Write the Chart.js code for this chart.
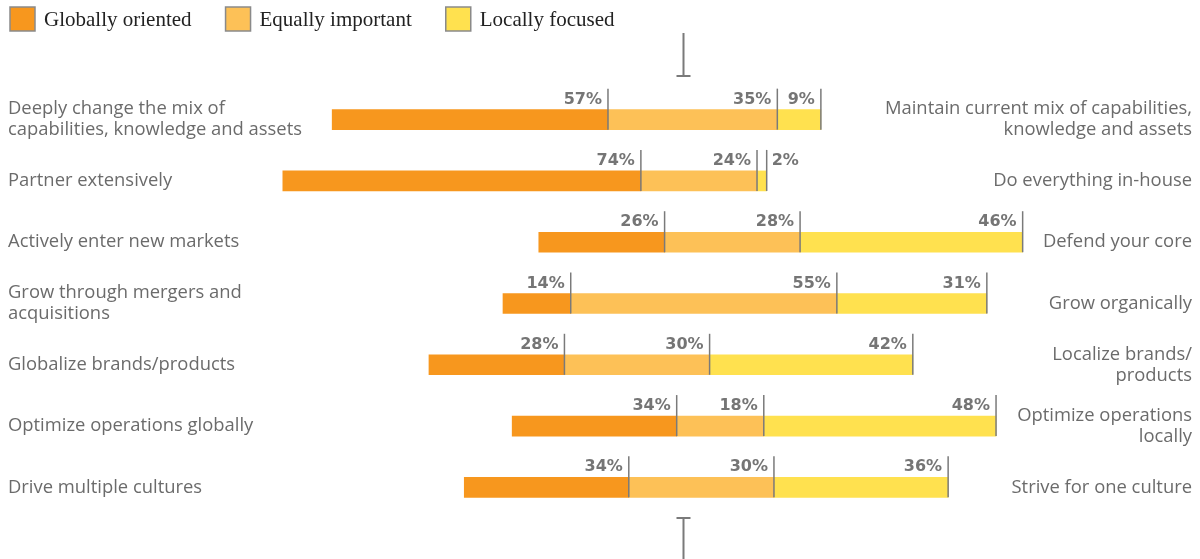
<!DOCTYPE html>
<html>
<head>
<meta charset="utf-8">
<script src="https://cdn.jsdelivr.net/npm/chart.js@4.4.1/dist/chart.umd.min.js"></script>
<style>
  html, body { margin: 0; padding: 0; background: #fff; }
</style>
</head>
<body>
<canvas id="chart" width="1200" height="559"></canvas>
<script>
const leftLabels = [
    ['Deeply change the mix of', 'capabilities, knowledge and assets'],
    ['Partner extensively'],
    ['Actively enter new markets'],
    ['Grow through mergers and', 'acquisitions'],
    ['Globalize brands/products'],
    ['Optimize operations globally'],
    ['Drive multiple cultures']
];
const rightLabels = [
    ['Maintain current mix of capabilities,', 'knowledge and assets'],
    ['Do everything in-house'],
    ['Defend your core'],
    ['Grow organically'],
    ['Localize brands/', 'products'],
    ['Optimize operations', 'locally'],
    ['Strive for one culture']
];
const globally = [57, 74, 26, 14, 28, 34, 34];
const equally = [35, 24, 28, 55, 30, 18, 30];
const locally = [9, 2, 46, 31, 42, 48, 36];
// where each bar begins, in % points relative to the centre marker
const barStart = [-72.5, -82.7, -29.8, -37.2, -52.5, -35.3, -45.2];
const seriesNames = ['Globally oriented', 'Equally important', 'Locally focused'];
const seriesColors = ['#f7971e', '#fdc157', '#ffe14f'];

const textColor = '#6b6b6b';
const sansFont = '"Open Sans", "Noto Sans", sans-serif';

// floating segments built from the values above
const series = [globally, equally, locally];
const segments = series.map(() => []);
barStart.forEach((start, i) => {
    let pos = start;
    series.forEach((vals, s) => {
        segments[s].push([pos, pos + vals[i]]);
        pos += vals[i];
    });
});

const overlay = {
    id: 'overlay',
    afterDatasetsDraw(chart) {
        const ctx = chart.ctx;
        const yScale = chart.scales.y;
        const xScale = chart.scales.x;
        ctx.save();

        // percentage labels and their little tick lines
        chart.data.datasets.forEach((ds, s) => {
            const meta = chart.getDatasetMeta(s);
            meta.data.forEach((bar, i) => {
                const right = Math.max(bar.x, bar.base);
                const left = Math.min(bar.x, bar.base);
                ctx.strokeStyle = '#7a7a7a';
                ctx.lineWidth = 1.5;
                ctx.beginPath();
                ctx.moveTo(right, bar.y - 31);
                ctx.lineTo(right, bar.y + 10);
                ctx.stroke();

                const txt = series[s][i] + '%';
                ctx.font = 'bold 16px "DejaVu Sans", sans-serif';
                ctx.fillStyle = '#757575';
                ctx.textBaseline = 'alphabetic';
                const w = ctx.measureText(txt).width;
                if (right - left < w + 8) {
                    ctx.textAlign = 'left';
                    ctx.fillText(txt, right + 5, bar.y - 16);
                } else {
                    ctx.textAlign = 'right';
                    ctx.fillText(txt, right - 6, bar.y - 16);
                }
            });
        });

        // category texts on both sides
        ctx.font = '18.4px ' + sansFont;
        ctx.fillStyle = textColor;
        ctx.textBaseline = 'middle';
        const lineH = 21;
        leftLabels.forEach((lines, i) => {
            const y = yScale.getPixelForValue(i);
            const top = y - (lines.length - 1) * lineH / 2;
            ctx.textAlign = 'left';
            lines.forEach((l, k) => ctx.fillText(l, 8, top + k * lineH));
        });
        rightLabels.forEach((lines, i) => {
            const y = yScale.getPixelForValue(i);
            const top = y - (lines.length - 1) * lineH / 2;
            ctx.textAlign = 'right';
            lines.forEach((l, k) => ctx.fillText(l, 1192, top + k * lineH));
        });

        // centre markers
        const cx = Math.round(xScale.getPixelForValue(0)) + 0.5;
        ctx.strokeStyle = '#7a7a7a';
        ctx.lineWidth = 2;
        ctx.beginPath();
        ctx.moveTo(cx, 33);
        ctx.lineTo(cx, 76);
        ctx.moveTo(cx - 7, 76);
        ctx.lineTo(cx + 7, 76);
        ctx.moveTo(cx - 7, 518);
        ctx.lineTo(cx + 7, 518);
        ctx.moveTo(cx, 518);
        ctx.lineTo(cx, 559);
        ctx.stroke();

        // legend
        let lx = 10;
        ctx.font = '21px "Liberation Serif", "DejaVu Serif", serif';
        ctx.textAlign = 'left';
        ctx.textBaseline = 'middle';
        chart.data.datasets.forEach((ds) => {
            ctx.fillStyle = ds.backgroundColor;
            ctx.fillRect(lx, 7, 25, 24);
            ctx.strokeStyle = '#8a8a8a';
            ctx.lineWidth = 1.5;
            ctx.strokeRect(lx, 7, 25, 24);
            ctx.fillStyle = '#222';
            ctx.fillText(ds.label, lx + 34, 20);
            lx += 34 + ctx.measureText(ds.label).width + 34;
        });

        ctx.restore();
    }
};

new Chart(document.getElementById('chart'), {
    type: 'bar',
    data: {
        labels: leftLabels.map(l => l.join(' ')),
        datasets: seriesNames.map((name, s) => ({
            label: name,
            data: segments[s],
            backgroundColor: seriesColors[s],
            borderWidth: 0,
            barThickness: 20,
            grouped: false
        }))
    },
    options: {
        indexAxis: 'y',
        responsive: false,
        animation: false,
        devicePixelRatio: 1,
        layout: { padding: { top: 89, bottom: 41, left: 8, right: 8 } },
        scales: {
            x: { type: 'linear', min: -139.5, max: 105.2, display: false },
            y: { display: false }
        },
        plugins: {
            legend: { display: false },
            tooltip: { enabled: false }
        }
    },
    plugins: [overlay]
});
</script>
</body>
</html>
